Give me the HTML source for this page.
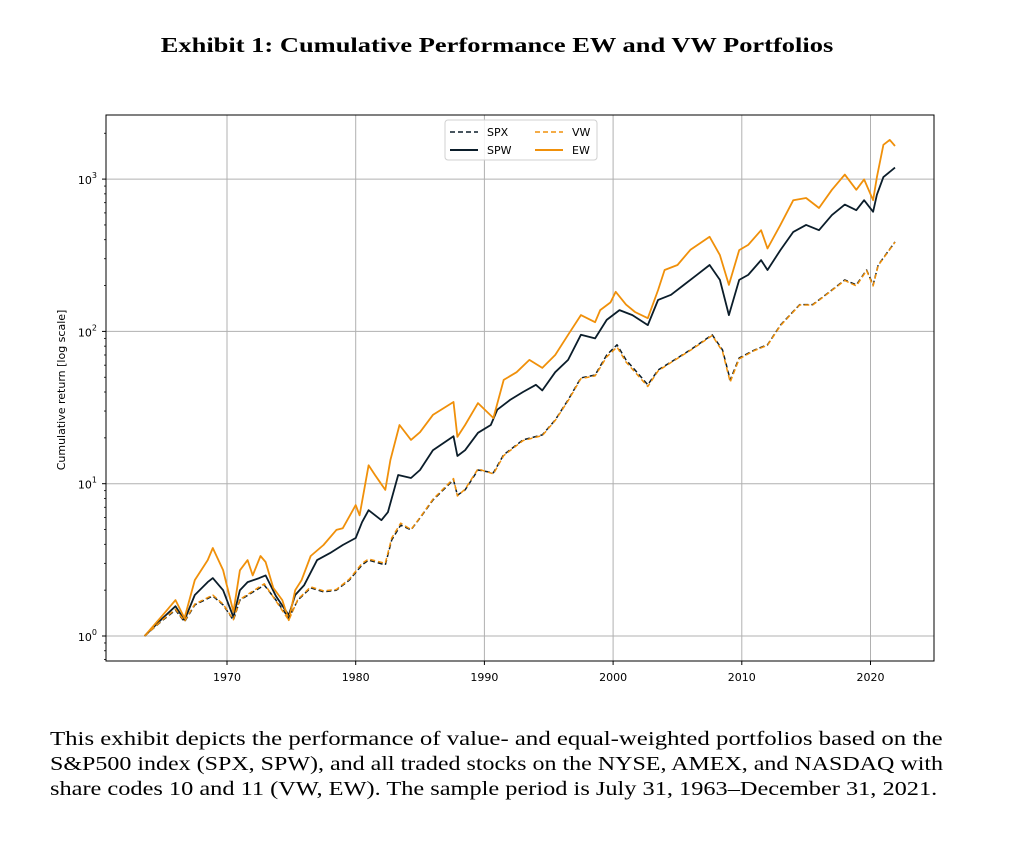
<!DOCTYPE html>
<html><head><meta charset="utf-8">
<style>
body{margin:0;background:#fff;width:1009px;height:856px;overflow:hidden;position:relative;font-family:"Liberation Serif",serif;}
#title{position:absolute;top:33px;left:0;width:994px;text-align:center;font-weight:bold;font-size:21px;color:#000;transform:scaleX(1.26);transform-origin:497px 0;}
.cap{position:absolute;left:50px;font-size:20.3px;color:#000;white-space:nowrap;transform-origin:0 0;}
svg{position:absolute;left:0;top:0;}
</style></head><body>
<div id="title">Exhibit 1: Cumulative Performance EW and VW Portfolios</div>
<div class="cap" style="top:728px;transform:scaleX(1.223);">This exhibit depicts the performance of value- and equal-weighted portfolios based on the</div>
<div class="cap" style="top:753px;transform:scaleX(1.183);">S&amp;P500 index (SPX, SPW), and all traded stocks on the NYSE, AMEX, and NASDAQ with</div>
<div class="cap" style="top:778px;transform:scaleX(1.2);">share codes 10 and 11 (VW, EW). The sample period is July 31, 1963–December 31, 2021.</div>
<svg id="chart" width="1009" height="700"></svg>
<script>
const xTicks=[1970,1980,1990,2000,2010,2020];
const yTicks=[1,10,100,1000];
const yTickExps=['0','1','2','3'];
const ewYears=[1963.6,1965,1966,1966.7,1967.5,1968.5,1968.9,1969.7,1970.5,1971,1971.6,1972,1972.6,1973,1973.6,1974.3,1974.8,1975.3,1975.8,1976.5,1977.5,1978.5,1979,1980,1980.3,1981,1981.5,1982.3,1982.7,1983.4,1984.3,1985,1986,1987.6,1987.9,1988.5,1989.5,1990.7,1991.5,1992.5,1993.5,1994.5,1995.5,1996.5,1997.5,1998.6,1999,1999.8,2000.2,2001,2001.7,2002.7,2003.5,2004,2005,2006,2007.5,2008.3,2009,2009.8,2010.5,2011.5,2012,2013,2014,2015,2016,2017,2018,2018.9,2019.5,2020.2,2020.5,2021,2021.5,2021.9];
const ewValues=[1,1.37,1.72,1.31,2.33,3.15,3.78,2.71,1.44,2.7,3.15,2.5,3.35,3.06,2.07,1.72,1.27,2.0,2.33,3.35,3.96,4.97,5.1,7.24,6.2,13.2,11.4,9.1,14.3,24.3,19.4,21.8,28.3,34.4,20.3,24.3,33.8,27,48,54,65,57.6,70,95,128,115,138,155,182,150,134,122,187,253,273,343,418,317,202,342,370,462,350,500,727,752,646,850,1070,850,995,727,1030,1680,1810,1650];
const spwYears=[1963.6,1965,1966,1966.7,1967.5,1968.5,1968.9,1969.7,1970.5,1971,1971.6,1972.5,1973,1973.8,1974.8,1975.3,1976,1977,1978,1979,1980,1980.5,1981,1982,1982.5,1983.3,1984.3,1985,1986,1987.6,1987.9,1988.5,1989.5,1990.5,1991,1992,1993,1994,1994.5,1995.5,1996.5,1997.5,1998.6,1999.5,2000.5,2001.5,2002.7,2003.5,2004.5,2005.5,2006.5,2007.5,2008.3,2009,2009.8,2010.5,2011.5,2012,2013,2014,2015,2016,2017,2018,2018.9,2019.5,2020.2,2020.5,2021,2021.9];
const spwValues=[1,1.31,1.57,1.27,1.86,2.26,2.4,2.0,1.33,2.0,2.26,2.4,2.5,1.83,1.37,1.86,2.16,3.15,3.5,3.96,4.4,5.6,6.7,5.76,6.5,11.4,10.9,12.3,16.6,20.5,15.2,16.6,21.6,24.3,30.6,35.5,40,44.6,41,54,65,95,90,119,138,128,110,161,174,202,235,273,218,128,218,235,294,253,342,450,500,462,580,680,625,727,610,790,1030,1190];
const spxYears=[1963.6,1965,1966,1966.7,1967.5,1968.9,1969.7,1970.5,1971,1972.9,1973.8,1974.8,1975.5,1976.5,1977.5,1978.5,1979.5,1980.5,1981,1982.3,1982.8,1983.5,1984.3,1985,1986,1987.6,1987.9,1988.5,1989.5,1990.7,1991.5,1993,1994.5,1995.5,1996.5,1997.5,1998.6,1999.5,2000.3,2001,2001.7,2002.7,2003.5,2004.5,2006,2007.7,2008.5,2009.1,2009.8,2011,2012,2013,2014.5,2015.5,2016,2017,2018,2018.9,2019.7,2020.2,2020.6,2021.9];
const spxValues=[1,1.27,1.48,1.24,1.6,1.83,1.6,1.27,1.72,2.16,1.72,1.31,1.72,2.07,1.95,2.0,2.33,2.93,3.15,2.93,4.27,5.35,4.97,5.95,7.8,10.6,8.4,9.1,12.3,11.8,15.5,19.4,20.9,26.2,35.5,49.5,51.7,70,81.6,65,55.8,44.6,55.8,63,75.6,95,75.6,48,67,75.6,81.6,110,150,150,161,187,218,202,253,202,273,387];
const vwYears=spxYears.slice();
const vwValues=[1,1.28,1.5,1.25,1.62,1.86,1.62,1.28,1.74,2.2,1.7,1.27,1.74,2.1,1.98,2.02,2.36,3.0,3.2,3.0,4.4,5.5,5.0,6.0,7.9,10.8,8.3,9.2,12.5,11.6,15.3,19.2,20.7,26,35,49,51,68,79,63,54,43.5,55,62.5,75,94,74,46.5,66,75,81,109,149,149,160,186,216,199,251,199,271,385];

const svg=document.getElementById('chart');
const NS='http://www.w3.org/2000/svg';
const L=106,R=934,T=115,B=661;
const X=y=>227+(y-1970)*12.87;
const Y=v=>636-Math.log10(v)*152.3;
function mk(tag,attrs,parent){const e=document.createElementNS(NS,tag);for(const k in attrs)e.setAttribute(k,attrs[k]);(parent||svg).appendChild(e);return e;}
xTicks.forEach(t=>{const g=mk('line',{x1:X(t),x2:X(t),y1:T,y2:B,stroke:'#b0b0b0','stroke-width':1});


const tk=mk('line',{x1:X(t),x2:X(t),y1:B,y2:B+4,stroke:'#000'});


const lb=mk('text',{x:X(t),y:B+20,'text-anchor':'middle','font-size':'11','font-family':'DejaVu Sans, sans-serif'});lb.textContent=t;

});
yTicks.forEach((t,i)=>{const g=mk('line',{x1:L,x2:R,y1:Y(t),y2:Y(t),stroke:'#b0b0b0','stroke-width':1});


mk('line',{x1:L-4,x2:L,y1:Y(t),y2:Y(t),stroke:'#000'});
const lb=mk('text',{x:L-9,y:Y(t)+5,'text-anchor':'end','font-size':'11','font-family':'DejaVu Sans, sans-serif'});


lb.textContent='10';const s=mk('tspan',{dy:-6,'font-size':'8'},lb);s.textContent=yTickExps[i];});
for(let d=-1;d<4;d++)for(let m=2;m<10;m++){const v=m*Math.pow(10,d);const y=Y(v);if(y<T||y>B)continue;mk('line',{x1:L-2,x2:L,y1:y,y2:y,stroke:'#000','stroke-width':0.8});}
const ylab=mk('text',{x:0,y:0,transform:'translate(65,390) rotate(-90)','text-anchor':'middle','font-size':'11','font-family':'DejaVu Sans, sans-serif'});ylab.textContent='Cumulative return [log scale]';


function line(xs,vs,color,dash,name){const d=xs.map((x,i)=>(i?'L':'M')+X(x).toFixed(1)+','+Y(vs[i]).toFixed(1)).join(' ');
const p=mk('path',{d:d,fill:'none',stroke:color,'stroke-width':dash?1.5:1.8,'stroke-dasharray':dash||'none','stroke-linejoin':'round'});

}
line(spwYears,spwValues,'#0b1d2a',null,'spw-line');
line(ewYears,ewValues,'#f0900a',null,'ew-line');
line(spxYears,spxValues,'#0b1d2a','5,3','spx-line');
line(vwYears,vwValues,'#f0900a','5,3','vw-line');
const fr=mk('rect',{x:L,y:T,width:R-L,height:B-T,fill:'none',stroke:'#000','stroke-width':1});


const lg=mk('g',{});


mk('rect',{x:445,y:120,width:152,height:40,rx:3,fill:'#fff','fill-opacity':0.85,stroke:'#d0d0d0'},lg);
const items=[['SPX','#0b1d2a','5,3',450,132],['SPW','#0b1d2a',null,450,150],['VW','#f0900a','5,3',535,132],['EW','#f0900a',null,535,150]];
items.forEach(it=>{mk('line',{x1:it[3],x2:it[3]+28,y1:it[4],y2:it[4],stroke:it[1],'stroke-width':it[2]?1.5:2,'stroke-dasharray':it[2]||'none'},lg);
const t=mk('text',{x:it[3]+37,y:it[4]+4,'font-size':'11','font-family':'DejaVu Sans, sans-serif'},lg);t.textContent=it[0];

});
</script>
</body></html>
